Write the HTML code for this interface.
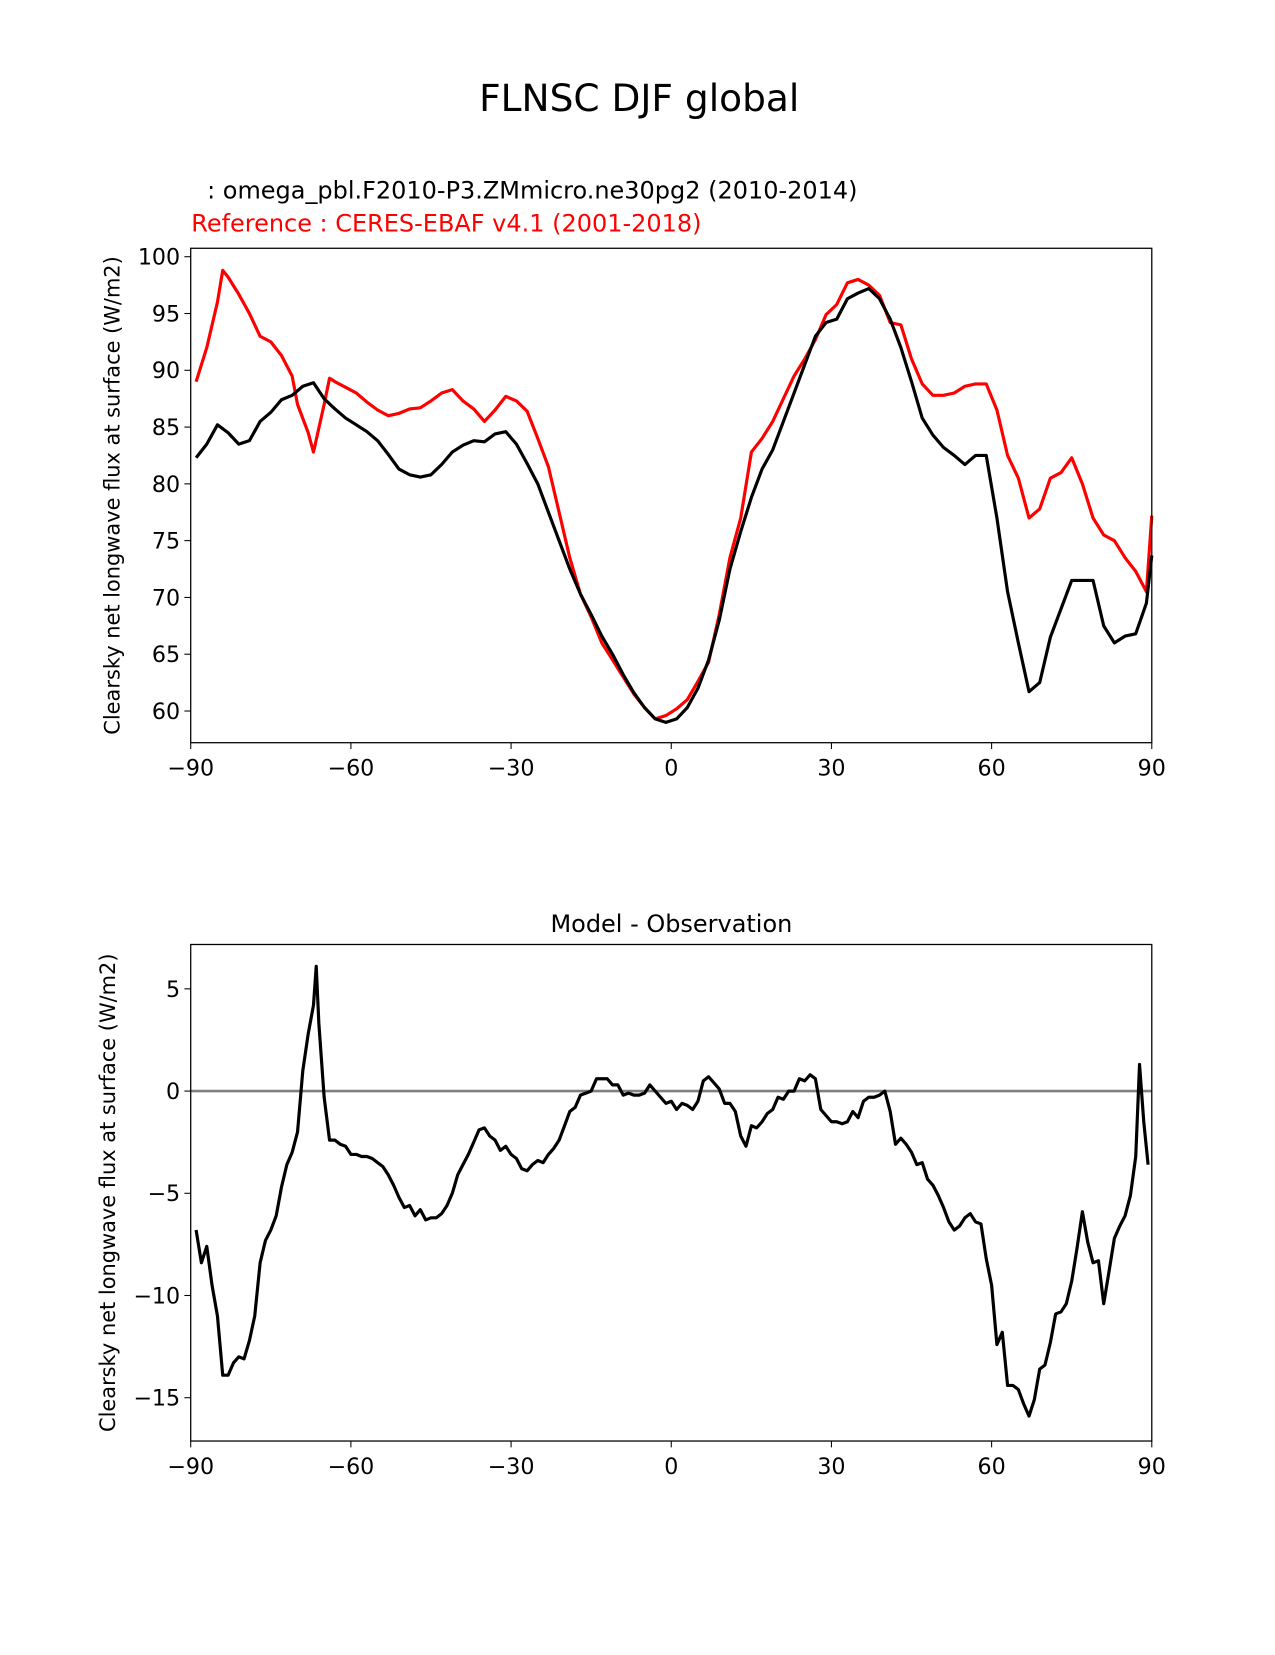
<!DOCTYPE html>
<html><head><meta charset="utf-8"><style>
html,body{margin:0;padding:0;background:#fff;}
text{font-family:"DejaVu Sans","Liberation Sans",sans-serif;}
</style></head><body>
<svg id="chart" width="1275" height="1650" viewBox="0 0 1206.8 1561.8" xmlns="http://www.w3.org/2000/svg">
<rect width="1206.8" height="1561.8" fill="#fff"/>
<text x="605" y="105" font-size="35.5" text-anchor="middle">FLNSC DJF global</text>
<text x="196" y="188" font-size="22.7">: omega_pbl.F2010-P3.ZMmicro.ne30pg2 (2010-2014)</text>
<text x="181" y="219" font-size="22.7" fill="#ff0000">Reference : CERES-EBAF v4.1 (2001-2018)</text>
<text x="635.5" y="882" font-size="22.7" text-anchor="middle">Model - Observation</text>
<g id="top"></g>
<g id="bot"></g>
</svg>
<script>
const NS="http://www.w3.org/2000/svg";
const xTicks=[-90,-60,-30,0,30,60,90];
const topYTicks=[60,65,70,75,80,85,90,95,100];
const botYTicks=[-15,-10,-5,0,5];
const latTop=[-89,-87,-85,-83,-81,-79,-77,-75,-73,-71,-69,-67,-65,-63,-61,-59,-57,-55,-53,-51,-49,-47,-45,-43,-41,-39,-37,-35,-33,-31,-29,-27,-25,-23,-21,-19,-17,-15,-13,-11,-9,-7,-5,-3,-1,1,3,5,7,9,11,13,15,17,19,21,23,25,27,29,31,33,35,37,39,41,43,45,47,49,51,53,55,57,59,61,63,65,67,69,71,73,75,77,79,81,83,85,87,89,90];
const modelVals=[82.3,83.5,85.2,84.5,83.5,83.8,85.5,86.3,87.4,87.8,88.6,88.9,87.5,86.6,85.8,85.2,84.6,83.8,82.6,81.3,80.8,80.6,80.8,81.7,82.8,83.4,83.8,83.7,84.4,84.6,83.5,81.8,80.0,77.5,75.0,72.5,70.3,68.5,66.6,65.0,63.2,61.6,60.3,59.3,59.0,59.3,60.3,62.0,64.5,68.0,72.5,75.8,78.8,81.3,83.0,85.5,88.0,90.5,93.0,94.2,94.5,96.3,96.8,97.2,96.3,94.5,92.0,89.0,85.8,84.3,83.2,82.5,81.7,82.5,82.5,77.0,70.5,66.0,61.7,62.5,66.5,69.0,71.5,71.5,71.5,67.5,66.0,66.6,66.8,69.5,73.7];
const latRef=[-89,-87,-85,-84,-83,-81,-79,-77,-75,-73,-71,-70,-68,-67,-65,-64,-63,-61,-59,-57,-55,-53,-51,-49,-47,-45,-43,-41,-39,-37,-35,-33,-31,-29,-27,-25,-23,-21,-19,-17,-15,-13,-11,-9,-7,-5,-3,-1,1,3,5,7,9,11,13,15,17,19,21,23,25,27,29,31,33,35,37,39,41,43,45,47,49,51,53,55,57,59,61,63,65,67,69,71,73,75,77,79,81,83,85,87,89,90];
const refVals=[89.0,92.0,96.0,98.8,98.2,96.7,95.0,93.0,92.5,91.3,89.5,87.0,84.5,82.8,87.0,89.3,89.0,88.5,88.0,87.2,86.5,86.0,86.2,86.6,86.7,87.3,88.0,88.3,87.3,86.6,85.5,86.5,87.7,87.3,86.4,84.0,81.5,77.5,73.5,70.3,68.3,66.0,64.5,63.0,61.5,60.3,59.3,59.6,60.2,61.0,62.6,64.3,68.5,73.5,77.0,82.8,84.0,85.5,87.5,89.5,91.0,92.7,94.9,95.8,97.7,98.0,97.5,96.6,94.2,94.0,91.0,88.8,87.8,87.8,88.0,88.6,88.8,88.8,86.5,82.5,80.5,77.0,77.8,80.5,81.0,82.3,80.0,77.0,75.5,75.0,73.5,72.3,70.5,77.2];
const latDiff=[-89,-88,-87,-86,-85,-84,-83,-82,-81,-80,-79,-78,-77,-76,-75,-74,-73,-72,-71,-70,-69,-68,-67,-66.5,-66,-65,-64,-63,-62,-61,-60,-59,-58,-57,-56,-55,-54,-53,-52,-51,-50,-49,-48,-47,-46,-45,-44,-43,-42,-41,-40,-39,-38,-37,-36,-35,-34,-33,-32,-31,-30,-29,-28,-27,-26,-25,-24,-23,-22,-21,-20,-19,-18,-17,-16,-15,-14,-13,-12,-11,-10,-9,-8,-7,-6,-5,-4,-3,-2,-1,0,1,2,3,4,5,6,7,8,9,10,11,12,13,14,15,16,17,18,19,20,21,22,23,24,25,26,27,28,29,30,31,32,33,34,35,36,37,38,39,40,41,42,43,44,45,46,47,48,49,50,51,52,53,54,55,56,57,58,59,60,61,62,63,64,65,66,67,68,69,70,71,72,73,74,75,76,77,78,79,80,81,82,83,84,85,86,87,87.7,88.5,89.3];
const diffVals=[-6.8,-8.4,-7.6,-9.5,-11,-13.9,-13.9,-13.3,-13,-13.1,-12.2,-11,-8.4,-7.3,-6.8,-6.1,-4.7,-3.6,-3,-2,1,2.8,4.2,6.1,3.3,-0.3,-2.4,-2.4,-2.6,-2.7,-3.1,-3.1,-3.2,-3.2,-3.3,-3.5,-3.7,-4.1,-4.6,-5.2,-5.7,-5.6,-6.1,-5.8,-6.3,-6.2,-6.2,-6,-5.6,-5.0,-4.1,-3.6,-3.1,-2.5,-1.9,-1.8,-2.2,-2.4,-2.9,-2.7,-3.1,-3.3,-3.8,-3.9,-3.6,-3.4,-3.5,-3.1,-2.8,-2.4,-1.7,-1.0,-0.8,-0.2,-0.1,0,0.6,0.6,0.6,0.3,0.3,-0.2,-0.1,-0.2,-0.2,-0.1,0.3,0,-0.3,-0.6,-0.5,-0.9,-0.6,-0.7,-0.9,-0.5,0.5,0.7,0.4,0.1,-0.6,-0.6,-1.0,-2.2,-2.7,-1.7,-1.8,-1.5,-1.1,-0.9,-0.3,-0.4,0,0,0.6,0.5,0.8,0.6,-0.9,-1.2,-1.5,-1.5,-1.6,-1.5,-1.0,-1.3,-0.5,-0.3,-0.3,-0.2,0,-1.0,-2.6,-2.3,-2.6,-3.0,-3.6,-3.5,-4.3,-4.6,-5.1,-5.7,-6.4,-6.8,-6.6,-6.2,-6.0,-6.4,-6.5,-8.2,-9.5,-12.4,-11.8,-14.4,-14.4,-14.6,-15.3,-15.9,-15.1,-13.6,-13.4,-12.3,-10.9,-10.8,-10.4,-9.3,-7.7,-5.9,-7.4,-8.4,-8.3,-10.4,-8.8,-7.2,-6.6,-6.1,-5.1,-3.2,1.3,-1.5,-3.6];

function el(parent,tag,attrs){const e=document.createElementNS(NS,tag);for(const k in attrs)e.setAttribute(k,attrs[k]);parent.appendChild(e);return e;}
const L=180.5,R=1090.2;
const xs=v=>L+(v+90)/180*(R-L);
function fmt(v){return v<0?'\u2212'+Math.abs(v):String(v);}

function axes(g,top,bot,ys,yTicks,label,labelX){
  for(const t of xTicks){
    const x=xs(t);
    const tk=el(g,'line',{x1:x,x2:x,y1:bot,y2:bot+6,stroke:'#000','stroke-width':1});
    
    
    const tx=el(g,'text',{x:x,y:bot+31,'font-size':21,'text-anchor':'middle'});
    
    
    tx.textContent=fmt(t);
  }
  for(const t of yTicks){
    const y=ys(t);
    const tk=el(g,'line',{x1:L-6,x2:L,y1:y,y2:y,stroke:'#000','stroke-width':1});
    
    
    const tx=el(g,'text',{x:L-10,y:y+7.5,'font-size':21,'text-anchor':'end'});
    
    
    tx.textContent=fmt(t);
  }
  const yl=el(g,'text',{x:0,y:0,'font-size':19.8,'text-anchor':'middle',transform:`translate(${labelX},${(top+bot)/2}) rotate(-90)`});
  
  
  yl.textContent=label;
}
function line(g,lats,vals,ys,color,name){
  const d=lats.map((la,i)=>(i?'L':'M')+xs(la).toFixed(1)+','+ys(vals[i]).toFixed(1)).join('');
  const p=el(g,'path',{d:d,fill:'none',stroke:color,'stroke-width':3,'stroke-linejoin':'round'});
  
  
}
const gt=document.getElementById('top');
const tT=235,tB=703;
const ysT=v=>673+(v-60)/40*(243-673);
line(gt,latRef,refVals,ysT,'#ff0000','reference-line');
line(gt,latTop,modelVals,ysT,'#000000','model-line');
const f1=el(gt,'rect',{x:L,y:tT,width:R-L,height:tB-tT,fill:'none',stroke:'#000','stroke-width':1.2});


axes(gt,tT,tB,ysT,topYTicks,'Clearsky net longwave flux at surface (W/m2)',113);
const gb=document.getElementById('bot');
const bT=894,bB=1364;
const ysB=v=>1323+(v+15)/20*(936-1323);
const z=el(gb,'line',{x1:L,x2:R,y1:ysB(0),y2:ysB(0),stroke:'#808080','stroke-width':2.5});


line(gb,latDiff,diffVals,ysB,'#000000','difference-line');
const f2=el(gb,'rect',{x:L,y:bT,width:R-L,height:bB-bT,fill:'none',stroke:'#000','stroke-width':1.2});


axes(gb,bT,bB,ysB,botYTicks,'Clearsky net longwave flux at surface (W/m2)',109);
</script>
</body></html>
